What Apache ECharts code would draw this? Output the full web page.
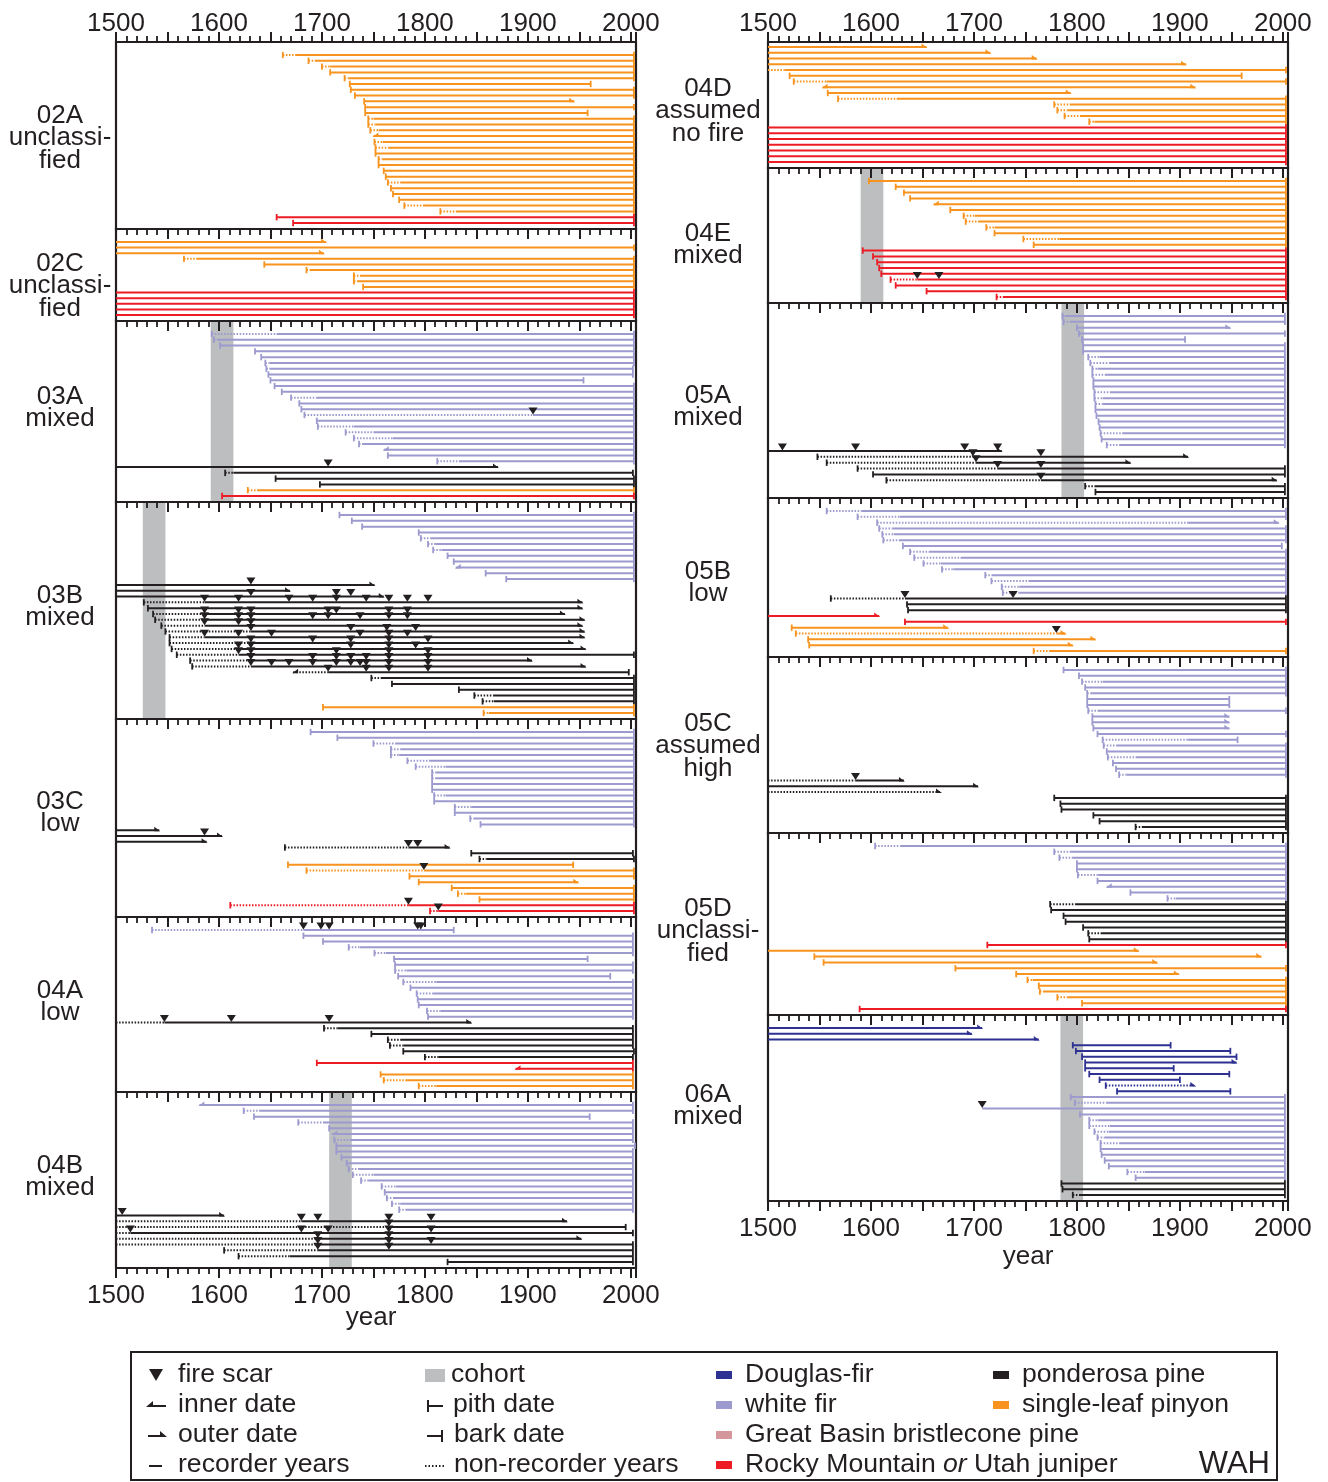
<!DOCTYPE html>
<html><head><meta charset="utf-8">
<script src="https://cdn.jsdelivr.net/npm/echarts@6/dist/echarts.min.js"></script>
<style>html,body{margin:0;padding:0;background:#fff}#c{width:1328px;height:1482px}</style>
</head><body><div id="c"></div>
<script>
// Tree records: [species, innerYear, innerType, recorderStartYear, outerYear, outerType, fireScarYears]
// species: D Douglas-fir, W white fir, S single-leaf pinyon, J juniper, P ponderosa pine
// innerType: p pith, i inner date, n none ; outerType: b bark, o outer date
const P02A = [
 ['S',1662,'p',1674,2003,'b'],['S',1687,'p',1693,2003,'b'],['S',1700,'p',1708,2003,'b'],['S',1708,'p',1708,2003,'b'],
 ['S',1722,'p',1726,2003,'b'],['S',1727,'p',1727,1961,'b'],['S',1728,'p',1728,2003,'b'],['S',1732,'p',1732,2003,'b'],
 ['S',1741,'p',1741,1945,'o'],['S',1742,'p',1742,2003,'b'],['S',1742,'p',1742,1958,'b'],['S',1745,'p',1750,2003,'b'],
 ['S',1745,'p',1752,2003,'b'],['S',1747,'p',1755,2003,'b'],['S',1750,'i',1750,2003,'b'],['S',1751,'p',1759,2003,'b'],
 ['S',1752,'p',1765,2003,'b'],['S',1752,'p',1752,2003,'b'],['S',1755,'p',1759,2003,'b'],['S',1755,'p',1755,2003,'b'],
 ['S',1760,'p',1760,2003,'b'],['S',1762,'p',1762,2003,'b'],['S',1764,'p',1776,2003,'b'],['S',1767,'p',1767,2003,'b'],
 ['S',1769,'p',1769,2003,'b'],['S',1775,'p',1775,2003,'b'],['S',1780,'p',1798,2003,'b'],['S',1815,'p',1830,2003,'b'],
 ['J',1656,'p',1656,2003,'b'],['J',1672,'p',1672,2003,'b']
];
const P02C = [
 ['S',1500,'n',1500,1704,'o'],['S',1500,'n',1500,2003,'b'],['S',1500,'n',1500,1702,'o'],['S',1566,'p',1578,2003,'b'],
 ['S',1644,'p',1644,2003,'b'],['S',1685,'p',1688,2003,'b'],['S',1731,'p',1737,2003,'b'],['S',1731,'p',1735,2003,'b'],
 ['S',1740,'p',1740,2003,'b'],
 ['J',1500,'n',1500,2003,'b'],['J',1500,'n',1500,2003,'b'],['J',1500,'n',1500,2003,'b'],['J',1500,'n',1500,2003,'b'],['J',1500,'n',1500,2003,'b']
];
const P03A = [
 ['W',1593,'p',1656,2003,'b'],['W',1595,'p',1598,2003,'b'],['W',1601,'p',1601,2003,'b'],['W',1635,'p',1635,2003,'b'],
 ['W',1641,'p',1641,2003,'b'],['W',1645,'p',1649,2003,'b'],['W',1646,'p',1649,2002,'b'],['W',1648,'p',1648,2002,'b'],
 ['W',1650,'p',1650,1954,'b'],['W',1654,'p',1654,2003,'b'],['W',1661,'p',1661,2003,'b'],['W',1670,'p',1695,2003,'b'],
 ['W',1678,'p',1678,2003,'b'],['W',1680,'p',1680,2003,'b'],['W',1683,'p',1905,2003,'b',[1905]],['W',1695,'p',1695,2003,'b'],
 ['W',1696,'p',1731,2003,'b'],['W',1723,'p',1750,2003,'b'],['W',1731,'p',1769,2003,'b'],['W',1736,'p',1739,2003,'b'],
 ['W',1760,'i',1760,2003,'b'],['W',1764,'p',1764,2003,'b'],['W',1812,'p',1833,2003,'b'],
 ['P',1500,'n',1500,1871,'o',[1706]],['P',1606,'p',1614,2002,'b'],['P',1655,'p',1655,2003,'b'],['P',1698,'p',1698,2003,'b'],
 ['S',1628,'p',1637,2003,'b'],
 ['J',1603,'p',1603,2003,'b']
];
const P03B = [
 ['W',1717,'p',1717,2003,'b'],['W',1729,'p',1729,2003,'b'],['W',1739,'p',1739,2003,'b'],['W',1794,'p',1794,2003,'b'],
 ['W',1796,'p',1806,2003,'b'],['W',1803,'p',1810,2003,'b'],['W',1808,'p',1816,2003,'b'],['W',1822,'p',1822,2003,'b'],
 ['W',1828,'p',1828,2003,'b'],['W',1830,'i',1830,2003,'b'],['W',1859,'p',1859,2003,'b'],['W',1879,'p',1879,2003,'b'],
 ['P',1500,'n',1500,1751,'o',[1631]],
 ['P',1500,'n',1500,1669,'o'],
 ['P',1500,'n',1500,1760,'o',[1631,1714,1728]],
 ['P',1527,'p',1586,1953,'o',[1586,1619,1668,1691,1714,1743,1765,1783,1803]],
 ['P',1531,'p',1531,1953,'o'],
 ['P',1536,'p',1586,1936,'o',[1586,1619,1631,1706,1714,1765,1783]],
 ['P',1538,'p',1586,1955,'o',[1586,1619,1631,1691,1706,1737,1765,1783]],
 ['P',1544,'p',1586,1953,'o',[1586,1619,1631]],
 ['P',1548,'p',1631,1955,'o',[1631,1728,1763,1791]],
 ['P',1552,'p',1586,1955,'o',[1586,1619,1651,1737,1765,1783]],
 ['P',1552,'p',1631,1944,'o',[1631,1691,1728,1765,1803]],
 ['P',1554,'p',1619,1956,'o',[1619,1631,1728,1765,1791]],
 ['P',1559,'p',1619,2003,'b',[1619,1631,1714,1765,1803]],
 ['P',1572,'p',1631,1904,'o',[1631,1691,1714,1728,1743,1765,1803]],
 ['P',1574,'p',1631,1956,'o',[1631,1651,1668,1691,1714,1728,1737,1743,1765,1803]],
 ['P',1672,'i',1706,1998,'b',[1706,1743,1765,1803]],
 ['P',1748,'p',1757,2003,'b'],['P',1768,'p',1768,2003,'b'],['P',1833,'p',1833,2003,'b'],['P',1848,'p',1867,2003,'b'],
 ['P',1856,'p',1867,2003,'b'],
 ['S',1701,'p',1701,2003,'b'],['S',1857,'p',1862,2003,'b']
];
const P03C = [
 ['W',1689,'p',1689,2003,'b'],['W',1715,'p',1715,2003,'b'],['W',1750,'p',1772,2003,'b'],['W',1767,'p',1776,2003,'b'],
 ['W',1767,'p',1775,2003,'b'],['W',1783,'p',1804,2003,'b'],['W',1791,'p',1820,2003,'b'],['W',1807,'p',1810,2003,'b'],
 ['W',1807,'p',1810,2003,'b'],['W',1807,'p',1807,2003,'b'],['W',1807,'p',1807,2003,'b'],['W',1809,'p',1820,2003,'b'],
 ['W',1809,'p',1809,2003,'b'],['W',1829,'p',1845,2003,'b'],['W',1829,'p',1829,2003,'b'],['W',1844,'p',1847,2003,'b'],
 ['W',1854,'p',1854,2003,'b'],
 ['P',1500,'n',1500,1542,'o'],['P',1500,'n',1500,1603,'o',[1586]],['P',1500,'n',1500,1588,'o'],
 ['P',1664,'p',1784,1824,'o',[1784,1793]],['P',1845,'p',1845,2002,'b'],['P',1853,'p',1860,2003,'b'],
 ['S',1667,'p',1667,1944,'b'],['S',1685,'p',1799,2003,'b',[1799]],['S',1785,'p',1785,2003,'b'],['S',1794,'p',1794,1949,'o'],
 ['S',1826,'p',1826,2003,'b'],['S',1832,'p',1840,2003,'b'],['S',1853,'p',1853,2003,'b'],
 ['J',1611,'p',1784,2003,'b',[1784]],['J',1805,'p',1813,2003,'b',[1813]]
];
const P04A = [
 ['W',1535,'p',1682,1828,'b',[1682,1699,1707,1793,1796]],
 ['W',1682,'p',1682,2002,'b'],['W',1701,'p',1701,2002,'b'],['W',1726,'p',1737,2002,'b'],['W',1751,'p',1762,2002,'b'],
 ['W',1770,'p',1770,1958,'b'],['W',1771,'p',1771,2002,'b'],['W',1771,'p',1782,2002,'b'],['W',1774,'p',1774,1980,'b'],
 ['W',1779,'p',1811,2002,'b'],['W',1786,'p',1786,2002,'b'],['W',1792,'p',1808,2002,'b'],['W',1793,'p',1793,2002,'b'],
 ['W',1794,'p',1794,2002,'b'],['W',1802,'p',1815,2002,'b'],['W',1803,'p',1803,2002,'b'],
 ['P',1500,'n',1547,1845,'o',[1547,1612,1707]],
 ['P',1702,'p',1715,2002,'b'],['P',1748,'p',1748,2002,'b'],['P',1764,'p',1776,2002,'b'],['P',1766,'p',1779,2002,'b'],
 ['P',1779,'p',1779,2003,'b'],['P',1800,'p',1813,2002,'b'],
 ['J',1695,'p',1695,2002,'b'],['J',1888,'i',1888,2002,'b'],
 ['S',1757,'p',1757,2002,'b'],['S',1760,'p',1781,2002,'b'],['S',1794,'p',1811,2002,'b']
];
const P04B = [
 ['W',1581,'i',1581,2002,'b'],['W',1624,'p',1639,2002,'b'],['W',1634,'p',1634,1960,'b'],['W',1677,'p',1701,2002,'b'],
 ['W',1707,'p',1707,2002,'b'],['W',1710,'i',1710,2002,'b'],['W',1712,'p',1727,2002,'b'],['W',1714,'p',1714,2004,'b'],
 ['W',1714,'p',1714,2002,'b'],['W',1719,'p',1719,2002,'b'],['W',1724,'p',1724,2002,'b'],['W',1726,'p',1735,2002,'b'],
 ['W',1730,'p',1750,2002,'b'],['W',1738,'p',1745,2002,'b'],['W',1758,'p',1772,2002,'b'],['W',1761,'p',1761,2002,'b'],
 ['W',1763,'p',1769,2002,'b'],['W',1768,'p',1776,2002,'b'],['W',1775,'p',1781,2002,'b'],
 ['P',1500,'n',1500,1605,'o',[1506]],
 ['P',1500,'n',1680,1938,'o',[1680,1696,1765,1806]],
 ['P',1500,'n',1765,1995,'b',[1765]],
 ['P',1500,'n',1514,2002,'b',[1514,1680,1706,1765,1806]],
 ['P',1500,'n',1696,1952,'o',[1696,1765]],
 ['P',1500,'n',1696,2002,'b',[1696,1765,1806]],
 ['P',1605,'p',1696,2002,'b',[1696,1765]],
 ['P',1619,'p',1669,2002,'b'],['P',1822,'p',1822,2002,'b']
];
const P04D = [
 ['S',1500,'n',1500,1654,'o'],['S',1500,'n',1500,1716,'o'],['S',1500,'n',1500,1761,'o'],['S',1500,'n',1500,1906,'o'],
 ['S',1500,'n',1516,2003,'b'],['S',1521,'p',1521,1960,'b'],['S',1525,'p',1557,2003,'b'],['S',1553,'i',1553,1915,'o'],
 ['S',1558,'p',1558,1794,'o'],['S',1568,'p',1625,2003,'b'],['S',1778,'p',1793,2003,'b'],['S',1781,'p',1791,2003,'b'],
 ['S',1788,'p',1803,2003,'b'],['S',1812,'p',1817,2003,'b'],
 ['J',1500,'n',1500,2003,'b'],['J',1500,'n',1500,2003,'b'],['J',1500,'n',1500,2003,'b'],['J',1500,'n',1500,2003,'b'],
 ['J',1500,'n',1500,2003,'b'],['J',1500,'n',1500,2003,'b'],['J',1500,'n',1500,2003,'b']
];
const P04E = [
 ['S',1598,'p',1598,2003,'b'],['S',1624,'p',1624,2003,'b'],['S',1632,'p',1632,2003,'b'],['S',1638,'p',1638,2003,'b'],
 ['S',1661,'i',1661,2003,'b'],['S',1677,'p',1677,2003,'b'],['S',1690,'p',1701,2003,'b'],['S',1692,'p',1704,2003,'b'],
 ['S',1712,'p',1720,2003,'b'],['S',1720,'p',1720,2003,'b'],['S',1748,'p',1783,2003,'b'],['S',1758,'p',1758,2003,'b'],
 ['J',1592,'p',1592,2003,'b'],['J',1602,'p',1602,2003,'b'],['J',1606,'p',1606,2003,'b'],['J',1608,'p',1608,2003,'b'],
 ['J',1610,'p',1610,2003,'b'],['J',1619,'p',1645,2003,'b',[1645,1666]],['J',1624,'p',1624,2003,'b'],
 ['J',1654,'p',1654,2003,'b'],['J',1722,'p',1728,2003,'b']
];
const P05A = [
 ['W',1786,'p',1788,2002,'b'],['W',1787,'p',1793,2002,'b'],['W',1800,'p',1800,1949,'o'],['W',1802,'p',1802,2002,'b'],
 ['W',1805,'p',1805,1905,'b'],['W',1806,'p',1806,2002,'b'],['W',1806,'p',1806,2002,'b'],['W',1811,'p',1822,2002,'b'],
 ['W',1813,'p',1832,2002,'b'],['W',1815,'p',1820,2002,'b'],['W',1815,'p',1827,2002,'b'],['W',1816,'p',1816,2002,'b'],
 ['W',1816,'p',1816,2002,'b'],['W',1817,'p',1832,2002,'b'],['W',1817,'p',1825,2002,'b'],['W',1818,'p',1825,2002,'b'],
 ['W',1818,'p',1818,2002,'b'],['W',1819,'p',1819,2002,'b'],['W',1821,'p',1821,2002,'b'],['W',1822,'p',1822,2002,'b'],
 ['W',1823,'p',1844,2002,'b'],['W',1824,'p',1824,2002,'b'],['W',1829,'p',1841,2002,'b'],
 ['P',1500,'n',1500,1727,'o',[1514,1585,1691,1723]],
 ['P',1548,'p',1699,1908,'o',[1699,1765]],
 ['P',1557,'p',1702,1852,'o',[1702]],
 ['P',1587,'p',1723,2002,'b',[1723,1765]],
 ['P',1602,'p',1602,2002,'b'],
 ['P',1615,'p',1765,1994,'o',[1765]],
 ['P',1808,'p',1817,2002,'b'],['P',1818,'p',1818,2002,'b']
];
const P05B = [
 ['W',1557,'p',1591,2003,'b'],['W',1587,'p',1628,2003,'b'],['W',1606,'p',1908,1996,'o'],['W',1608,'p',1621,2003,'b'],
 ['W',1611,'p',1622,2003,'b'],['W',1612,'p',1627,2003,'b'],['W',1631,'p',1631,1999,'b'],['W',1638,'p',1656,2003,'b'],
 ['W',1642,'p',1687,2003,'b'],['W',1651,'p',1668,2003,'b'],['W',1669,'p',1680,2003,'b'],['W',1711,'p',1717,2003,'b'],
 ['W',1717,'p',1753,2003,'b'],['W',1727,'p',1744,2003,'b'],['W',1728,'p',1744,2003,'b'],
 ['P',1561,'p',1633,2003,'b',[1633,1738]],['P',1635,'p',1635,2003,'b'],['P',1636,'p',1636,2003,'b'],
 ['J',1500,'n',1500,1608,'o'],['J',1633,'p',1633,2003,'b'],
 ['S',1523,'p',1523,1675,'o'],['S',1527,'p',1780,1789,'o',[1780]],['S',1539,'p',1539,1818,'o'],['S',1540,'p',1540,1796,'o'],
 ['S',1758,'p',1773,2003,'b']
];
const P05C = [
 ['W',1787,'p',1787,2003,'b'],['W',1802,'p',1802,2003,'b'],['W',1805,'p',1825,2003,'b'],['W',1808,'p',1808,2003,'b'],
 ['W',1810,'p',1813,2003,'b'],['W',1810,'p',1810,1948,'b'],['W',1810,'p',1810,1948,'b'],['W',1811,'p',1820,2003,'b'],
 ['W',1815,'p',1815,1948,'o'],['W',1815,'p',1815,1948,'o'],['W',1816,'p',1816,1948,'o'],['W',1820,'p',1820,2003,'b'],
 ['W',1825,'p',1908,1956,'b'],['W',1826,'p',1839,2003,'b'],['W',1829,'p',1829,2003,'b'],['W',1830,'p',1857,2003,'b'],
 ['W',1835,'p',1835,2003,'b'],['W',1838,'p',1838,2003,'b'],['W',1841,'p',1848,2003,'b'],
 ['P',1500,'n',1585,1632,'o',[1585]],['P',1500,'n',1500,1704,'o'],['P',1500,'n',1668,1668,'o'],
 ['P',1778,'p',1778,2003,'b'],['P',1784,'p',1784,2003,'b'],['P',1785,'p',1785,2003,'b'],['P',1816,'p',1816,2003,'b'],
 ['P',1822,'p',1822,2003,'b'],['P',1857,'p',1863,2003,'b']
];
const P05D = [
 ['W',1604,'p',1629,2003,'b'],['W',1778,'p',1793,2003,'b'],['W',1783,'p',1795,2003,'b'],['W',1800,'p',1800,2003,'b'],
 ['W',1800,'p',1800,2003,'b'],['W',1801,'p',1820,2003,'b'],['W',1820,'p',1820,2003,'b'],['W',1829,'i',1829,2003,'b'],
 ['W',1852,'p',1852,2003,'b'],['W',1888,'p',1896,2003,'b'],
 ['P',1774,'p',1799,2003,'b'],['P',1775,'p',1775,2003,'b'],['P',1787,'p',1787,2003,'b'],['P',1789,'p',1789,2003,'b'],
 ['P',1806,'p',1806,2003,'b'],['P',1811,'p',1823,2003,'b'],['P',1812,'p',1812,2003,'b'],
 ['J',1713,'p',1713,2003,'b'],
 ['S',1500,'n',1500,1860,'o'],['S',1545,'p',1545,1979,'o'],['S',1554,'p',1554,1878,'o'],['S',1682,'p',1682,2003,'b'],
 ['S',1741,'p',1741,1899,'o'],['S',1752,'p',1757,2003,'b'],['S',1763,'p',1763,2003,'b'],['S',1764,'p',1768,2003,'b'],
 ['S',1781,'p',1791,2003,'b'],['S',1805,'p',1805,2003,'b'],
 ['J',1589,'p',1589,2003,'b']
];
const P06A = [
 ['D',1500,'n',1500,1708,'o'],['D',1500,'n',1500,1698,'o'],['D',1500,'n',1500,1763,'o'],['D',1796,'p',1796,1891,'b'],
 ['D',1799,'p',1799,1949,'b'],['D',1805,'p',1805,1955,'b'],['D',1808,'p',1808,1955,'o'],['D',1808,'p',1808,1894,'b'],
 ['D',1812,'p',1812,1948,'b'],['D',1822,'p',1822,1900,'b'],['D',1828,'p',1915,1915,'o'],['D',1839,'p',1839,1949,'b'],
 ['W',1794,'p',1794,2002,'b'],['W',1798,'p',1829,2002,'b'],['W',1708,'n',1708,2002,'b',[1708]],['W',1803,'p',1803,2002,'b'],
 ['W',1812,'p',1820,2002,'b'],['W',1812,'p',1832,2002,'b'],['W',1817,'p',1831,2002,'b'],['W',1820,'p',1827,2002,'b'],
 ['W',1823,'p',1841,2002,'b'],['W',1823,'p',1823,2002,'b'],['W',1824,'p',1824,2002,'b'],['W',1827,'p',1827,2002,'b'],
 ['W',1831,'p',1831,2002,'b'],['W',1849,'p',1866,2002,'b'],['W',1857,'p',1857,2002,'b'],
 ['P',1785,'p',1785,2002,'b'],['P',1786,'p',1786,2002,'b'],['P',1796,'p',1803,2002,'b']
];
// cohort year ranges
const COHORT_03A = [1592, 1614];
const COHORT_03B = [1526, 1548];
const COHORT_04B = [1707, 1729];
const COHORT_04E = [1590, 1612];
const COHORT_05A = [1785, 1807];
const COHORT_06A = [1784, 1806];
const TICK_LABELS = [1500, 1600, 1700, 1800, 1900, 2000];

const INK = '#231F20';
const COLORS = {D:'#2E3192', W:'#9C9ACE', S:'#F7931E', J:'#ED1C24', P:'#231F20', B:'#D4989C'};
const FONT = "'Liberation Sans', Arial, Helvetica, sans-serif";
const FS = 26;
const LFS = 26.6;

// layout
const LEFT_EDGES = [42, 229, 321, 502, 719, 917, 1092, 1268];
const RIGHT_EDGES = [42, 168, 303, 498, 657, 833, 1015, 1201];
const panels = [
 {col:0,pos:0,trees:P02A,label:'02A\nunclassi-\nfied',ly:138},
 {col:0,pos:1,trees:P02C,label:'02C\nunclassi-\nfied',ly:286},
 {col:0,pos:2,trees:P03A,label:'03A\nmixed',ly:408,cohort:COHORT_03A},
 {col:0,pos:3,trees:P03B,label:'03B\nmixed',ly:607,cohort:COHORT_03B},
 {col:0,pos:4,trees:P03C,label:'03C\nlow',ly:813},
 {col:0,pos:5,trees:P04A,label:'04A\nlow',ly:1002},
 {col:0,pos:6,trees:P04B,label:'04B\nmixed',ly:1177,cohort:COHORT_04B,last:true},
 {col:1,pos:0,trees:P04D,label:'04D\nassumed\nno fire',ly:111,padTop:5},
 {col:1,pos:1,trees:P04E,label:'04E\nmixed',ly:245,cohort:COHORT_04E},
 {col:1,pos:2,trees:P05A,label:'05A\nmixed',ly:407,cohort:COHORT_05A},
 {col:1,pos:3,trees:P05B,label:'05B\nlow',ly:583},
 {col:1,pos:4,trees:P05C,label:'05C\nassumed\nhigh',ly:746},
 {col:1,pos:5,trees:P05D,label:'05D\nunclassi-\nfied',ly:931},
 {col:1,pos:6,trees:P06A,label:'06A\nmixed',ly:1106,cohort:COHORT_06A,last:true}
];

function makeX(gridIndex, position, inside, showLabels) {
  return {
    gridIndex, type:'value', position, min:1500, max:2005, interval:50,
    axisLine:{show:false, onZero:false},
    axisTick:{show:true, inside, length:10, lineStyle:{color:INK, width:2}},
    minorTick:{show:true, splitNumber:5, length:6, lineStyle:{color:INK, width:1.8}},
    splitLine:{show:false}, minorSplitLine:{show:false},
    axisLabel:{show:showLabels, fontSize:FS, fontFamily:FONT, color:INK,
      margin: position === 'top' ? 5 : 15,
      formatter: v => TICK_LABELS.indexOf(v) >= 0 ? String(v) : ''}
  };
}

function makeTreeRenderer(trees) {
  return function(params, api) {
    const t = trees[params.dataIndex];
    const row = api.value(0);
    const col = COLORS[t[0]];
    const c0 = api.coord([t[1], row]), cr = api.coord([t[3], row]), c1 = api.coord([t[4], row]);
    const y = c0[1], x0 = c0[0], xr = cr[0], x1 = c1[0];
    const LW = 2;
    const ch = [];
    if (xr > x0 + 0.5) ch.push({type:'line', shape:{x1:x0, y1:y, x2:xr, y2:y}, style:{stroke:col, lineWidth:LW, lineDash:[1.5,1.6]}});
    if (x1 > xr + 0.5) ch.push({type:'line', shape:{x1:xr, y1:y, x2:x1, y2:y}, style:{stroke:col, lineWidth:LW}});
    if (t[2] === 'p') ch.push({type:'line', shape:{x1:x0, y1:y-3.2, x2:x0, y2:y+3.2}, style:{stroke:col, lineWidth:1.8}});
    else if (t[2] === 'i') ch.push({type:'polygon', shape:{points:[[x0-1,y+1],[x0+5,y-3.5],[x0+5,y+1]]}, style:{fill:col}});
    if (t[5] === 'b') ch.push({type:'line', shape:{x1:x1, y1:y-3.2, x2:x1, y2:y+3.2}, style:{stroke:col, lineWidth:1.8}});
    else if (t[5] === 'o') ch.push({type:'polygon', shape:{points:[[x1+1,y+1],[x1-5,y-3.5],[x1-5,y+1]]}, style:{fill:col}});
    (t[6] || []).forEach(yr => {
      const sx = api.coord([yr, row])[0];
      ch.push({type:'polygon', shape:{points:[[sx-4.5,y-7.5],[sx+4.5,y-7.5],[sx,y-0.5]]}, style:{fill:INK}});
    });
    return {type:'group', children:ch};
  };
}

const grids = [], xAxes = [], yAxes = [], series = [], graphics = [];
panels.forEach((p, k) => {
  const edges = p.col === 0 ? LEFT_EDGES : RIGHT_EDGES;
  const top = edges[p.pos], H = edges[p.pos + 1] - top;
  const left = p.col === 0 ? 116 : 768;
  grids.push({left, top, width:520, height:H, show:true, borderColor:INK, borderWidth:2.2, backgroundColor:'transparent'});
  const n = p.trees.length;
  const padTop = p.padTop != null ? p.padTop : 13, padBot = 6;
  const s = (H - padTop - padBot) / (n - 1);
  yAxes.push({gridIndex:k, type:'value', inverse:true, min:-padTop / s, max:n - 1 + padBot / s, show:false,
    axisLine:{onZero:false}});
  const topIdx = xAxes.length;
  xAxes.push(makeX(k, 'top', p.pos !== 0, p.pos === 0));
  if (p.last) xAxes.push(makeX(k, 'bottom', false, true));
  if (p.cohort) {
    series.push({type:'custom', xAxisIndex:topIdx, yAxisIndex:k, z:-1, silent:true,
      data:[[p.cohort[0], p.cohort[1], 0]], encode:{x:[0,1], y:2},
      renderItem:(params, api) => {
        const cs = params.coordSys;
        const xa = api.coord([api.value(0), 0])[0], xb = api.coord([api.value(1), 0])[0];
        return {type:'rect', shape:{x:xa, y:cs.y + 1, width:xb - xa, height:cs.height - 2}, style:{fill:'#BCBEC0'}};
      }});
  }
  series.push({type:'custom', xAxisIndex:topIdx, yAxisIndex:k, z:3, silent:true,
    data:p.trees.map((t, i) => [i, t[1], t[4]]), encode:{x:[1,2], y:0},
    renderItem:makeTreeRenderer(p.trees)});
  graphics.push({type:'text', x:p.col === 0 ? 60 : 708, y:p.ly,
    style:{text:p.label, fontSize:FS, fontFamily:FONT, fill:INK, lineHeight:22.5,
      textAlign:'center', textVerticalAlign:'middle', align:'center', verticalAlign:'middle'}});
});

function txt(x, y, text, extra) {
  return Object.assign({type:'text', x, y, style:Object.assign({text, fontSize:LFS, fontFamily:FONT, fill:INK,
    textAlign:'left', textVerticalAlign:'middle', align:'left', verticalAlign:'middle'}, extra || {})});
}
graphics.push(txt(371, 1318, 'year', {textAlign:'center', align:'center', fontSize:FS}));
graphics.push(txt(1028, 1257, 'year', {textAlign:'center', align:'center', fontSize:FS}));

// legend
const L = [];
L.push({type:'rect', shape:{x:131, y:1352, width:1146, height:128}, style:{fill:'none', stroke:INK, lineWidth:2}});
L.push({type:'polygon', shape:{points:[[149,1369],[163,1369],[156,1381]]}, style:{fill:INK}});
L.push({type:'line', shape:{x1:148, y1:1406, x2:166, y2:1406}, style:{stroke:INK, lineWidth:2}});
L.push({type:'polygon', shape:{points:[[146,1407],[153,1401],[153,1407]]}, style:{fill:INK}});
L.push({type:'line', shape:{x1:148, y1:1436, x2:164, y2:1436}, style:{stroke:INK, lineWidth:2}});
L.push({type:'polygon', shape:{points:[[167,1437],[160,1431],[160,1437]]}, style:{fill:INK}});
L.push({type:'line', shape:{x1:149, y1:1466, x2:162, y2:1466}, style:{stroke:INK, lineWidth:2}});
L.push({type:'rect', shape:{x:425, y:1369, width:20, height:13}, style:{fill:'#BCBEC0'}});
L.push({type:'line', shape:{x1:428, y1:1406, x2:443, y2:1406}, style:{stroke:INK, lineWidth:2}});
L.push({type:'line', shape:{x1:428, y1:1400, x2:428, y2:1412}, style:{stroke:INK, lineWidth:2}});
L.push({type:'line', shape:{x1:427, y1:1436, x2:442, y2:1436}, style:{stroke:INK, lineWidth:2}});
L.push({type:'line', shape:{x1:442, y1:1430, x2:442, y2:1442}, style:{stroke:INK, lineWidth:2}});
L.push({type:'line', shape:{x1:425, y1:1466, x2:445, y2:1466}, style:{stroke:INK, lineWidth:2, lineDash:[1.5,2]}});
const sw = [[716,1371,COLORS.D],[716,1401,COLORS.W],[716,1431,COLORS.B],[716,1461,COLORS.J],[993,1371,COLORS.P],[993,1401,COLORS.S]];
sw.forEach(a => L.push({type:'rect', shape:{x:a[0], y:a[1], width:16, height:8}, style:{fill:a[2]}}));
L.push(txt(178,1375,'fire scar')); L.push(txt(178,1405,'inner date')); L.push(txt(178,1435,'outer date')); L.push(txt(178,1465,'recorder years'));
L.push(txt(451,1375,'cohort')); L.push(txt(453,1405,'pith date')); L.push(txt(454,1435,'bark date')); L.push(txt(454,1465,'non-recorder years'));
L.push(txt(745,1375,'Douglas-fir')); L.push(txt(745,1405,'white fir')); L.push(txt(745,1435,'Great Basin bristlecone pine'));
L.push({type:'text', x:745, y:1465, style:{text:'{n|Rocky Mountain }{i|or}{n| Utah juniper}', fill:INK,
  textVerticalAlign:'middle', verticalAlign:'middle', fontSize:LFS, fontFamily:FONT,
  rich:{n:{fontSize:LFS, fontFamily:FONT, fill:INK, color:INK}, i:{fontSize:LFS, fontFamily:FONT, fontStyle:'italic', fill:INK, color:INK}}}});
L.push(txt(1022,1375,'ponderosa pine')); L.push(txt(1022,1405,'single-leaf pinyon'));
L.push(txt(1270,1464,'WAH', {fontSize:31, textAlign:'right', align:'right'}));
graphics.push(...L);

const chart = echarts.init(document.getElementById('c'), null, {renderer:'canvas'});
chart.setOption({
  animation:false, backgroundColor:'#fff',
  grid:grids, xAxis:xAxes, yAxis:yAxes, series, graphic:graphics
});
</script></body></html>
